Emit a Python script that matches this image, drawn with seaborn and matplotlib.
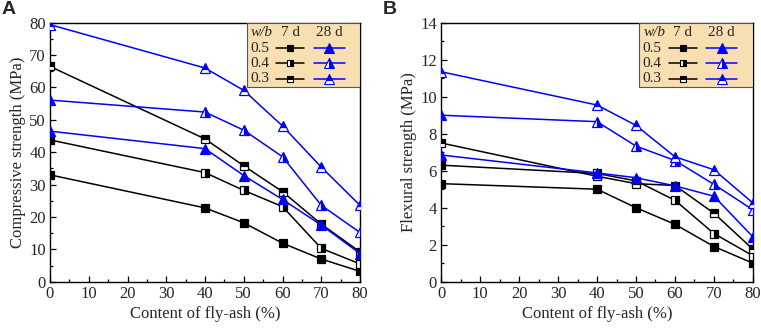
import numpy as np
import pandas as pd
import seaborn as sns
from matplotlib import pyplot as plt
from matplotlib.patches import Rectangle
from matplotlib.ticker import MultipleLocator

sns.set_style("ticks")
plt.rcParams['font.family'] = ['Liberation Serif', 'DejaVu Serif']

# fly-ash content (%)
fly_ash = [0, 40, 50, 60, 70, 80]
wb_ratios = ['0.5', '0.4', '0.3']

# compressive strength (MPa)
comp_7d = {
    '0.5': [33.0, 22.8, 18.2, 11.9, 7.0, 3.2],
    '0.4': [43.8, 33.7, 28.2, 23.2, 10.3, 5.5],
    '0.3': [66.5, 44.1, 35.8, 27.8, 17.8, 9.2],
}
comp_28d = {
    '0.5': [46.5, 41.1, 32.8, 25.4, 17.5, 8.7],
    '0.4': [56.1, 52.4, 46.8, 38.6, 23.6, 15.2],
    '0.3': [79.4, 66.0, 59.1, 48.1, 35.4, 23.6],
}

# flexural strength (MPa)
flex_7d = {
    '0.5': [5.3, 5.0, 4.0, 3.1, 1.9, 1.0],
    '0.4': [6.3, 5.85, 5.45, 4.4, 2.6, 1.4],
    '0.3': [7.5, 5.7, 5.3, 5.2, 3.7, 1.75],
}
flex_28d = {
    '0.5': [6.85, 5.88, 5.62, 5.18, 4.62, 2.42],
    '0.4': [9.0, 8.65, 7.33, 6.55, 5.26, 3.88],
    '0.3': [11.35, 9.55, 8.45, 6.75, 6.05, 4.25],
}

fills = {'0.5': 'full', '0.4': 'right', '0.3': 'top'}


def draw_series(ax, vals, color, marker, ms):
    for wb in wb_ratios:
        df = pd.DataFrame({'x': fly_ash, 'y': vals[wb]})
        sns.lineplot(data=df, x='x', y='y', ax=ax, color=color, lw=1.1,
                     marker=marker, markersize=ms, fillstyle=fills[wb],
                     markerfacecolor=color, markerfacecoloralt='white',
                     markeredgecolor=color, markeredgewidth=0.9, zorder=3)


def draw_legend(ax):
    box = Rectangle((0.635, 0.75), 0.365, 0.25, transform=ax.transAxes,
                    facecolor='#F7DFB2', edgecolor='#555555', lw=0.8, zorder=5)
    ax.add_patch(box)
    kw = dict(transform=ax.transAxes, fontsize=11, va='center', zorder=6)
    ax.text(0.648, 0.962, 'w/b', style='italic', **kw)
    ax.text(0.775, 0.962, '7 d', ha='center', **kw)
    ax.text(0.9, 0.962, '28 d', ha='center', **kw)
    for wb, yy in zip(wb_ratios, [0.902, 0.843, 0.784]):
        ax.text(0.646, yy, wb, **kw)
        ax.plot([0.73, 0.82], [yy, yy], transform=ax.transAxes, color='black',
                lw=1.1, zorder=6, clip_on=False)
        ax.plot([0.775], [yy], transform=ax.transAxes, color='black', marker='s',
                markersize=4.5, fillstyle=fills[wb], markerfacecolor='black',
                markerfacecoloralt='white', markeredgecolor='black',
                markeredgewidth=0.8, zorder=7, clip_on=False)
        ax.plot([0.85, 0.95], [yy, yy], transform=ax.transAxes, color='blue',
                lw=1.1, zorder=6, clip_on=False)
        ax.plot([0.9], [yy], transform=ax.transAxes, color='blue', marker='^',
                markersize=6.5, fillstyle=fills[wb], markerfacecolor='blue',
                markerfacecoloralt='white', markeredgecolor='blue',
                markeredgewidth=0.8, zorder=7, clip_on=False)


def style_axes(ax, ymax, ymajor, yminor, ylabel):
    ax.set_xlim(0, 80)
    ax.set_ylim(0, ymax)
    ax.xaxis.set_major_locator(MultipleLocator(10))
    ax.xaxis.set_minor_locator(MultipleLocator(5))
    ax.yaxis.set_major_locator(MultipleLocator(ymajor))
    ax.yaxis.set_minor_locator(MultipleLocator(yminor))
    ax.tick_params(which='both', direction='in', labelsize=12, color='black')
    ax.tick_params(which='major', length=4, width=0.9, pad=3)
    ax.tick_params(which='minor', length=2.5, width=0.9)
    for sp in ax.spines.values():
        sp.set_visible(True)
        sp.set_color('black')
        sp.set_linewidth(1.0)
    ax.set_xlabel('Content of fly-ash (%)', fontsize=12, labelpad=3)
    ax.set_ylabel(ylabel, fontsize=12, labelpad=2)


fig = plt.figure(figsize=(7.61, 3.28), dpi=100)
axA = fig.add_axes([50 / 761, 1 - 281.7 / 328, 310 / 761, 259 / 328])
axB = fig.add_axes([441 / 761, 1 - 281.7 / 328, 312 / 761, 259 / 328])

draw_series(axA, comp_7d, 'black', 's', 5.5)
draw_series(axA, comp_28d, 'blue', '^', 7.5)
style_axes(axA, 80, 10, 5, 'Compressive strength (MPa)')
draw_legend(axA)

draw_series(axB, flex_7d, 'black', 's', 5.5)
draw_series(axB, flex_28d, 'blue', '^', 7.5)
style_axes(axB, 14, 2, 1, 'Flexural strength (MPa)')
draw_legend(axB)

fig.text(2 / 761, 1 - 10 / 328, 'A', fontsize=14, fontweight='bold',
         family='Liberation Sans', va='center')
fig.text(383 / 761, 1 - 10 / 328, 'B', fontsize=14, fontweight='bold',
         family='Liberation Sans', va='center')

plt.savefig('out.png', dpi=100)
